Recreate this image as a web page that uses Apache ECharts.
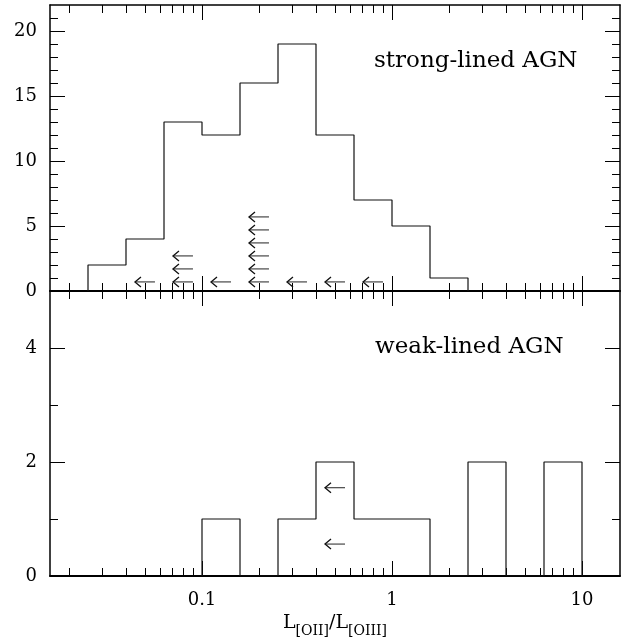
<!DOCTYPE html>
<html><head><meta charset="utf-8">
<script src="https://cdn.jsdelivr.net/npm/echarts@6/dist/echarts.min.js"></script>
<style>html,body{margin:0;padding:0;background:#fff}#c{width:622px;height:643px}</style>
</head><body><div id="c"></div>
<script>
// ---------------- data ----------------
const xRange = [0.015849, 15.849];
const xMajorTicks = [0.1, 1, 10];
const xTickLabels = ['0.1', '1', '10'];
const xMinorTicks = [0.02,0.03,0.04,0.05,0.06,0.07,0.08,0.09,0.2,0.3,0.4,0.5,0.6,0.7,0.8,0.9,2,3,4,5,6,7,8,9];

const strongBinEdges = [0.02512,0.03981,0.0631,0.1,0.1585,0.2512,0.3981,0.631,1.0,1.585,2.512];
const strongCounts   = [2,4,13,12,16,19,12,7,5,1];
const strongLimitX   = [0.0501,0.0794,0.0794,0.0794,0.1259,0.1995,0.1995,0.1995,0.1995,0.1995,0.1995,0.3162,0.5012,0.7943];
const strongLimitY   = [0.7,0.7,1.7,2.7,0.7,0.7,1.7,2.7,3.7,4.7,5.7,0.7,0.7,0.7];
const strongYMajor   = [0,5,10,15,20];
const strongYMinor   = [1,2,3,4,6,7,8,9,11,12,13,14,16,17,18,19,21];
const strongYMax     = 22;

const weakBinEdges = [0.1,0.1585,0.2512,0.3981,0.631,1.0,1.585,2.512,3.981,6.31,10];
const weakCounts   = [1,0,1,2,1,1,0,2,0,2];
const weakLimitX   = [0.5012,0.5012];
const weakLimitY   = [0.56,1.55];
const weakYMajor   = [0,2,4];
const weakYMinor   = [1,3];
const weakYMax     = 5;

const strongLabel = 'strong-lined AGN';
const weakLabel = 'weak-lined AGN';

// ---------------- build ----------------
const FONT = '"DejaVu Serif", "Liberation Serif", serif';
const INK = '#000';

function stepData(edges, counts) {
  const d = [[edges[0], 0]];
  counts.forEach((c, i) => d.push([edges[i], c]));
  d.push([edges[counts.length], 0]);
  return d;
}
function xLabel(v) {
  const i = xMajorTicks.findIndex(t => Math.abs(Math.log10(t / v)) < 1e-6);
  return i >= 0 ? xTickLabels[i] : '';
}
function xAx(grid, pos, ticks, len, lineW, showLabel, extra) {
  return Object.assign({
    type: 'log', logBase: 10, gridIndex: grid, position: pos,
    min: xRange[0], max: xRange[1],
    axisLine: { show: lineW > 0, onZero: false, lineStyle: { color: INK, width: lineW } },
    axisTick: { show: true, inside: true, length: len, customValues: ticks, lineStyle: { color: INK, width: 1 } },
    axisLabel: { show: showLabel, customValues: ticks, margin: 15, color: INK, fontFamily: FONT, fontSize: 18, formatter: xLabel },
    splitLine: { show: false }, minorTick: { show: false }
  }, extra || {});
}
function yAx(grid, pos, ticks, len, lineW, showLabel, max) {
  return {
    type: 'value', gridIndex: grid, position: pos, min: 0, max: max,
    axisLine: { show: lineW > 0, onZero: false, lineStyle: { color: INK, width: lineW } },
    axisTick: { show: true, inside: true, length: len, customValues: ticks, lineStyle: { color: INK, width: 1 } },
    axisLabel: { show: showLabel, customValues: ticks, margin: 13, color: INK, fontFamily: FONT, fontSize: 18 },
    splitLine: { show: false }, minorTick: { show: false }
  };
}
function arrowSeries(xi, yi, xs, ys) {
  return {
    type: 'custom', xAxisIndex: xi, yAxisIndex: yi,
    data: xs.map((x, i) => [x, ys[i]]),
    encode: { x: 0, y: 1 },
    renderItem: function (params, api) {
      const p = api.coord([api.value(0), api.value(1)]);
      const x0 = p[0] - 10, x1 = p[0] + 10, y = p[1];
      return { type: 'group', children: [
        { type: 'line', shape: { x1: x0, y1: y, x2: x1, y2: y }, style: { stroke: '#555', lineWidth: 1.3 } },
        { type: 'polyline', shape: { points: [[x0 + 6, y - 5], [x0, y], [x0 + 6, y + 5]] }, style: { stroke: '#111', fill: null, lineWidth: 1.3 } }
      ]};
    },
    z: 5
  };
}

const axisName = '{L|L}{s|[OII]}{L|/L}{s|[OIII]}';

const option = {
  animation: false,
  backgroundColor: '#fff',
  grid: [
    { left: 50, right: 2, top: 5, height: 286 },
    { left: 50, right: 2, top: 291, height: 285 }
  ],
  xAxis: [
    xAx(0, 'bottom', xMajorTicks, 15, 2, false),
    xAx(0, 'bottom', xMinorTicks, 8, 0, false),
    xAx(0, 'top', xMajorTicks, 15, 1.5, false),
    xAx(0, 'top', xMinorTicks, 8, 0, false),
    xAx(1, 'bottom', xMajorTicks, 15, 2, true, {
      name: axisName, nameLocation: 'middle', nameGap: 32,
      nameTextStyle: { color: INK, fontFamily: FONT, rich: {
        L: { fontSize: 19, fontFamily: FONT, color: INK },
        s: { fontSize: 14, fontFamily: FONT, color: INK, padding: [16, 0, 0, 0] }
      } }
    }),
    xAx(1, 'bottom', xMinorTicks, 8, 0, false),
    xAx(1, 'top', xMajorTicks, 15, 0, false),
    xAx(1, 'top', xMinorTicks, 8, 0, false)
  ],
  yAxis: [
    yAx(0, 'left', strongYMajor, 15, 1.5, true, strongYMax),
    yAx(0, 'left', strongYMinor, 8, 0, false, strongYMax),
    yAx(0, 'right', strongYMajor, 15, 1.5, false, strongYMax),
    yAx(0, 'right', strongYMinor, 8, 0, false, strongYMax),
    yAx(1, 'left', weakYMajor, 15, 1.5, true, weakYMax),
    yAx(1, 'left', weakYMinor, 8, 0, false, weakYMax),
    yAx(1, 'right', weakYMajor, 15, 1.5, false, weakYMax),
    yAx(1, 'right', weakYMinor, 8, 0, false, weakYMax)
  ],
  series: [
    { type: 'line', xAxisIndex: 0, yAxisIndex: 0, step: 'end', symbol: 'none',
      data: stepData(strongBinEdges, strongCounts), lineStyle: { color: '#111', width: 1.2 }, z: 4 },
    { type: 'line', xAxisIndex: 4, yAxisIndex: 4, step: 'end', symbol: 'none',
      data: stepData(weakBinEdges, weakCounts), lineStyle: { color: '#111', width: 1.2 }, z: 4 },
    arrowSeries(0, 0, strongLimitX, strongLimitY),
    arrowSeries(4, 4, weakLimitX, weakLimitY)
  ],
  graphic: [
    { type: 'text', left: 374, top: 50, style: { text: strongLabel, font: '23px ' + FONT, fill: INK } },
    { type: 'text', left: 375, top: 336, style: { text: weakLabel, font: '23px ' + FONT, fill: INK } }
  ]
};

const chart = echarts.init(document.getElementById('c'), null, { renderer: 'canvas' });
chart.setOption(option);
</script>
</body></html>
